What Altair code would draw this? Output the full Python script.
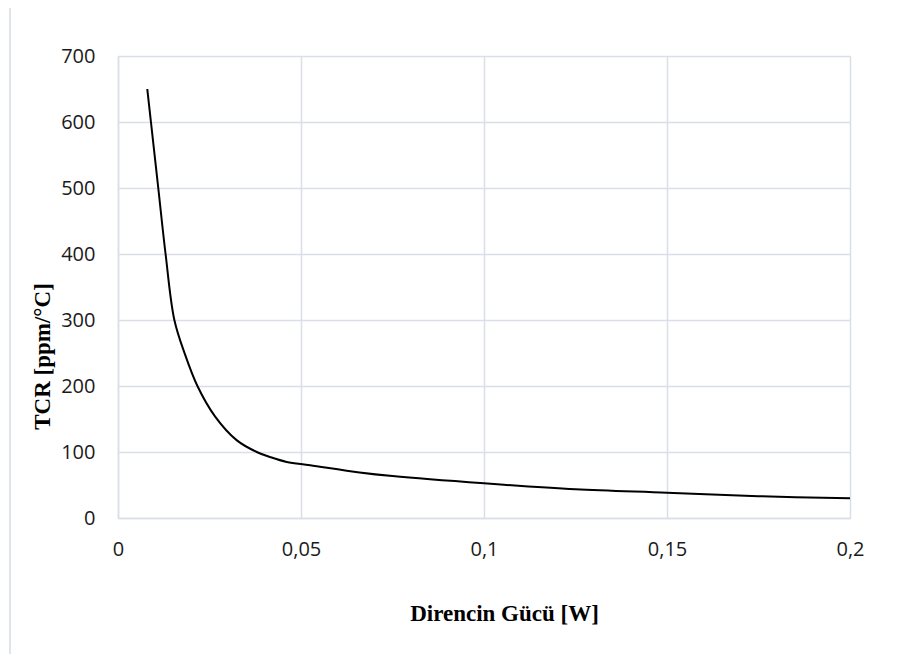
import altair as alt
import pandas as pd

# Data
power = [0.008, 0.009, 0.011, 0.013, 0.0154, 0.0183, 0.0217, 0.0265, 0.0324,
         0.0379, 0.0415, 0.0461, 0.0525, 0.066, 0.075, 0.1, 0.125, 0.15, 0.175, 0.2]
tcr = [650, 600, 500, 400, 300, 248, 200, 154, 118,
       100, 92.5, 85, 80, 69, 63.5, 52.5, 43.5, 38.4, 33, 30]

x_ticks = [0, 0.05, 0.1, 0.15, 0.2]
y_ticks = [0, 100, 200, 300, 400, 500, 600, 700]

x_title = "Direncin Gücü [W]"
y_title = "TCR [ppm/°C]"

df = pd.DataFrame({"power": power, "tcr": tcr})

grid = "#d9dee8"
label_font = "Open Sans"
title_font = "Liberation Serif"

line = alt.Chart(df).mark_line(
    color="black", strokeWidth=2, interpolate="catmull-rom"
).encode(
    x=alt.X(
        "power:Q",
        scale=alt.Scale(domain=[0, 0.2], nice=False, zero=True),
        axis=alt.Axis(
            values=x_ticks,
            labelExpr="replace(format(datum.value, '~g'), '.', ',')",
            title=x_title,
            grid=True, gridColor=grid, gridWidth=1.5,
            domainColor=grid, domainWidth=1.5,
            ticks=False, tickSize=0,
            labelPadding=31, labelBaseline="middle", labelFlush=False,
            labelFont=label_font, labelFontSize=20, labelColor="#1a1a1a",
            titleFont=title_font, titleFontSize=23, titleFontWeight="bold",
            titleColor="black", titleX=386, titleY=95,
            titleAlign="center", titleBaseline="middle",
        ),
    ),
    y=alt.Y(
        "tcr:Q",
        scale=alt.Scale(domain=[0, 700], nice=False),
        axis=alt.Axis(
            values=y_ticks,
            title=y_title,
            grid=True, gridColor=grid, gridWidth=1.5,
            domainColor=grid, domainWidth=1.5,
            ticks=False, tickSize=0,
            labelPadding=23, labelFlush=False,
            labelFont=label_font, labelFontSize=20, labelColor="#1a1a1a",
            titleFont=title_font, titleFontSize=23, titleFontWeight="bold",
            titleColor="black", titleX=-76, titleY=300, titleAngle=270,
            titleAlign="center", titleBaseline="middle",
        ),
    ),
)

frame = alt.Chart(pd.DataFrame({"a": [0]})).mark_rule(
    color="#dfe3ea", strokeWidth=2
).encode(
    x=alt.value(-108), y=alt.value(-48), y2=alt.value(600)
)

chart = alt.layer(frame, line).properties(
    width=732, height=462,
    autosize=alt.AutoSizeParams(type="none"),
    padding={"left": 110, "top": 48, "right": 44, "bottom": 136},
).configure_view(stroke=None)

chart.save("out.html", embed_options={"renderer": "svg", "actions": False})
